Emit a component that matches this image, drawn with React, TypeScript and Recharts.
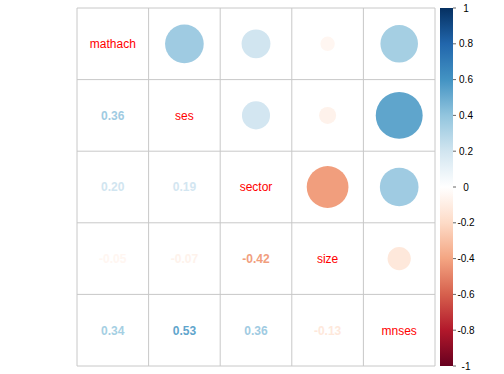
import React from "react";
import {
  ScatterChart,
  Scatter,
  XAxis,
  YAxis,
  ZAxis,
  Cell,
  ReferenceLine,
  ReferenceArea,
} from "recharts";

const variables = ["mathach", "ses", "sector", "size", "mnses"];
const mathachRow = [1, 0.36, 0.2, -0.05, 0.34];
const sesRow = [0.36, 1, 0.19, -0.07, 0.53];
const sectorRow = [0.2, 0.19, 1, -0.42, 0.36];
const sizeRow = [-0.05, -0.07, -0.42, 1, -0.13];
const mnsesRow = [0.34, 0.53, 0.36, -0.13, 1];
const corrRows = [mathachRow, sesRow, sectorRow, sizeRow, mnsesRow];
const colorbarTicks = [-1, -0.8, -0.6, -0.4, -0.2, 0, 0.2, 0.4, 0.6, 0.8, 1];
const paletteStops = [
  "#67001F", "#B2182B", "#D6604D", "#F4A582", "#FDDBC7", "#FFFFFF",
  "#D1E5F0", "#92C5DE", "#4393C3", "#2166AC", "#053061",
];

const hex2rgb = (h: string) => [
  parseInt(h.slice(1, 3), 16),
  parseInt(h.slice(3, 5), 16),
  parseInt(h.slice(5, 7), 16),
];
const corrColor = (v: number) => {
  const pos = ((v + 1) / 2) * (paletteStops.length - 1);
  const i = Math.min(Math.floor(pos), paletteStops.length - 2);
  const t = pos - i;
  const a = hex2rgb(paletteStops[i]);
  const b = hex2rgb(paletteStops[i + 1]);
  const c = a.map((x, k) => Math.round(x + (b[k] - x) * t));
  return `rgb(${c[0]},${c[1]},${c[2]})`;
};

const n = variables.length;
const CELL = 71.6;
const X_MAX = 376 / CELL;
const CB_X1 = (440 - 77) / CELL;
const FONT = "'Liberation Sans', Arial, sans-serif";

const circleData: any[] = [];
const numberData: any[] = [];
const nameData: any[] = [];
corrRows.forEach((row, r) => {
  row.forEach((v, c) => {
    const pt = { x: c + 0.5, y: n - r - 0.5, v, abs: Math.abs(v) };
    if (c > r) circleData.push(pt);
    else if (c < r) numberData.push(pt);
    else nameData.push({ ...pt, name: variables[r] });
  });
});
const tickData = colorbarTicks.map((t) => ({ x: X_MAX, y: t, abs: 0 }));

const NumberShape = (p: any) => (
  <text
    x={p.cx}
    y={p.cy}
    dy="0.36em"
    textAnchor="middle"
    fontFamily={FONT}
    fontSize={12}
    fontWeight="bold"
    fill={corrColor(p.payload.v)}
  >
    {p.payload.v.toFixed(2)}
  </text>
);

const NameShape = (p: any) => (
  <text
    x={p.cx}
    y={p.cy}
    dy="0.36em"
    textAnchor="middle"
    fontFamily={FONT}
    fontSize={12}
    fill="#FF0000"
  >
    {p.payload.name}
  </text>
);

const TickShape = (p: any) => (
  <g>
    <line x1={p.cx} x2={p.cx + 3} y1={p.cy} y2={p.cy} stroke="#666" strokeWidth={1} />
    <text
      x={p.cx + 13}
      y={p.cy}
      dy="0.36em"
      textAnchor="middle"
      fontFamily={FONT}
      fontSize={10}
      fill="#000"
    >
      {String(p.payload.y)}
    </text>
  </g>
);

export default function App() {
  const gridLines = Array.from({ length: n + 1 }, (_, k) => k);
  return (
    <div style={{ position: "absolute", top: 0, left: 0 }}>
      <svg width={0} height={0} style={{ position: "absolute" }}>
        <defs>
          <linearGradient id="cbgrad" x1="0" y1="0" x2="0" y2="1">
            {paletteStops
              .slice()
              .reverse()
              .map((c, i) => (
                <stop key={i} offset={i / (paletteStops.length - 1)} stopColor={c} />
              ))}
          </linearGradient>
        </defs>
      </svg>
      <ScatterChart
        width={504}
        height={374}
        margin={{ top: 8, right: 51, bottom: 8, left: 77 }}
      >
        <XAxis type="number" dataKey="x" domain={[0, X_MAX]} hide />
        <YAxis type="number" dataKey="y" domain={[0, n]} hide />
        <YAxis yAxisId="cb" type="number" dataKey="y" domain={[-1, 1]} hide />
        <ZAxis type="number" dataKey="abs" domain={[0, 1]} range={[0, Math.PI * Math.pow(0.45 * CELL, 2)]} />
        <ReferenceArea
          yAxisId="cb"
          x1={CB_X1}
          x2={X_MAX}
          y1={-1}
          y2={1}
          fill="url(#cbgrad)"
          fillOpacity={1}
          stroke="none"
          ifOverflow="visible"
        />
        {gridLines.map((k) => (
          <ReferenceLine
            key={"v" + k}
            segment={[{ x: k, y: 0 }, { x: k, y: n }]}
            stroke="#C8C8C8"
            strokeWidth={1}
          />
        ))}
        {gridLines.map((k) => (
          <ReferenceLine
            key={"h" + k}
            segment={[{ x: 0, y: k }, { x: n, y: k }]}
            stroke="#C8C8C8"
            strokeWidth={1}
          />
        ))}
        <Scatter data={circleData} shape="circle" isAnimationActive={false}>
          {circleData.map((d, i) => (
            <Cell key={i} fill={corrColor(d.v)} />
          ))}
        </Scatter>
        <Scatter data={numberData} shape={<NumberShape />} isAnimationActive={false} />
        <Scatter data={nameData} shape={<NameShape />} isAnimationActive={false} />
        <Scatter yAxisId="cb" data={tickData} shape={<TickShape />} isAnimationActive={false} />
      </ScatterChart>
    </div>
  );
}
